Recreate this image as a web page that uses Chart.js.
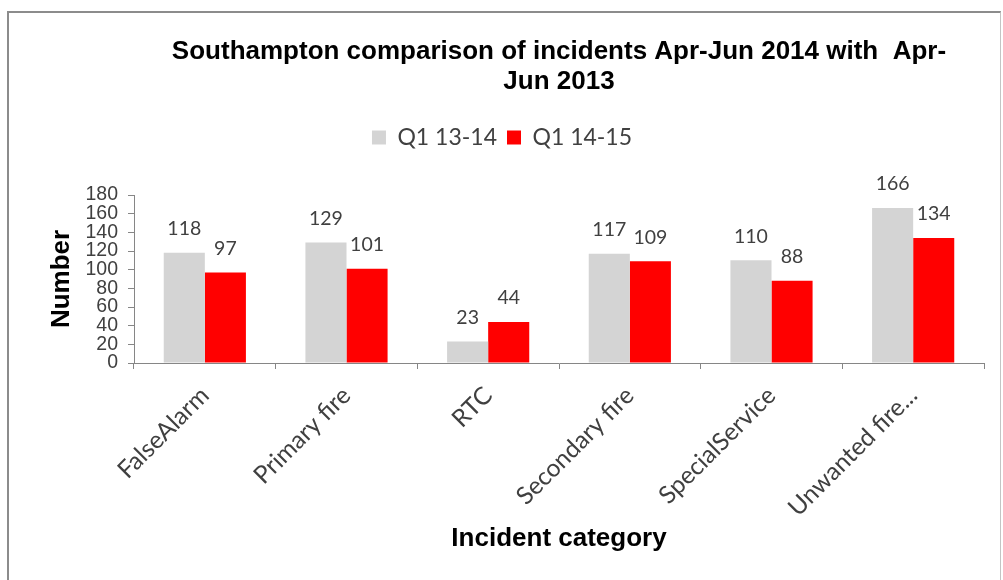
<!DOCTYPE html>
<html>
<head>
<meta charset="utf-8">
<script src="https://cdn.jsdelivr.net/npm/chart.js@4"></script>
<style>
  html, body { margin: 0; padding: 0; background: #ffffff; overflow: hidden; }
  #wrap { position: absolute; left: 0; top: 0; width: 1003px; height: 580px; }
  #frame { position: absolute; left: 7px; top: 11px; width: 991px; height: 620px;
           border-left: 2px solid #8c8c8c; border-top: 2px solid #8c8c8c; border-right: 1px solid #c4c4c4;
           pointer-events: none; }
</style>
</head>
<body>
<div id="wrap"><canvas id="c"></canvas></div>
<div id="frame"></div>
<script>
// ---- data ----
const categories = ['FalseAlarm', 'Primary fire', 'RTC', 'Secondary fire', 'SpecialService', 'Unwanted fire...'];
const seriesNames = ['Q1 13-14', 'Q1 14-15'];
const q1_13_14 = [118, 129, 23, 117, 110, 166];
const q1_14_15 = [97, 101, 44, 109, 88, 134];
const yTicks = [0, 20, 40, 60, 80, 100, 120, 140, 160, 180];
const titleLines = ['Southampton comparison of incidents Apr-Jun 2014 with  Apr-', 'Jun 2013'];
const yTitle = 'Number';
const xTitle = 'Incident category';

const valueLabels = {
  id: 'valueLabels',
  afterDatasetsDraw(chart) {
    const ctx = chart.ctx;
    ctx.save();
    ctx.font = '19.5px Lato';
    ctx.fillStyle = '#404040';
    ctx.textAlign = 'center';
    ctx.textBaseline = 'middle';
    chart.data.datasets.forEach((ds, i) => {
      chart.getDatasetMeta(i).data.forEach((bar, j) => {
        ctx.fillText(String(ds.data[j]), bar.x, bar.y - 24);
      });
    });
    ctx.restore();
  }
};

new Chart(document.getElementById('c'), {
  type: 'bar',
  data: {
    labels: categories,
    datasets: [
      { label: seriesNames[0], data: q1_13_14, backgroundColor: '#d4d4d4', borderWidth: 0 },
      { label: seriesNames[1], data: q1_14_15, backgroundColor: '#ff0000', borderWidth: 0 }
    ]
  },
  options: {
    responsive: true,
    maintainAspectRatio: false,
    animation: false,
    devicePixelRatio: 1,
    layout: { padding: { left: 20, right: 19, top: 0, bottom: 10 } },
    datasets: { bar: { categoryPercentage: 0.58, barPercentage: 1.0 } },
    plugins: {
      title: {
        display: true,
        fullSize: false,
        text: titleLines,
        color: '#000000',
        font: { family: 'Liberation Sans', size: 26, weight: 'bold', lineHeight: 30 / 26 },
        padding: { top: 37, bottom: 19 }
      },
      legend: {
        display: true,
        position: 'top',
        labels: {
          boxWidth: 14, boxHeight: 14, padding: 10,
          color: '#404040',
          font: { family: 'Lato', size: 23 }
        }
      },
      tooltip: { enabled: false }
    },
    scales: {
      spacer: {
        type: 'category',
        position: 'top',
        display: true,
        grid: { display: false },
        border: { display: false },
        ticks: { display: false },
        afterFit(scale) { scale.height = 36; }
      },
      x: {
        grid: { display: true, offset: true, drawOnChartArea: false, drawTicks: true, tickLength: 6, color: '#868686' },
        border: { display: true, color: '#868686', width: 1 },
        ticks: { color: '#404040', font: { family: 'Lato', size: 24.5 }, minRotation: 45, maxRotation: 45, padding: 12, autoSkip: false },
        title: { display: true, text: xTitle, color: '#000000', font: { family: 'Liberation Sans', size: 26, weight: 'bold' }, padding: { top: 0, bottom: 16 } },
        afterFit(scale) { scale.height = 207; }
      },
      y: {
        min: 0, max: 180,
        afterBuildTicks(scale) { scale.ticks = yTicks.map(v => ({ value: v })); },
        grid: { display: true, drawOnChartArea: false, drawTicks: true, tickLength: 6, color: '#868686' },
        border: { display: true, color: '#868686', width: 1 },
        ticks: { color: '#404040', font: { family: 'Liberation Sans', size: 19.5 }, padding: 10, autoSkip: false },
        title: { display: true, text: yTitle, color: '#000000', font: { family: 'Liberation Sans', size: 26, weight: 'bold' }, padding: { top: 26, bottom: 0 } },
        afterFit(scale) { scale.width = 114; }
      }
    }
  },
  plugins: [valueLabels]
});
</script>
</body>
</html>
